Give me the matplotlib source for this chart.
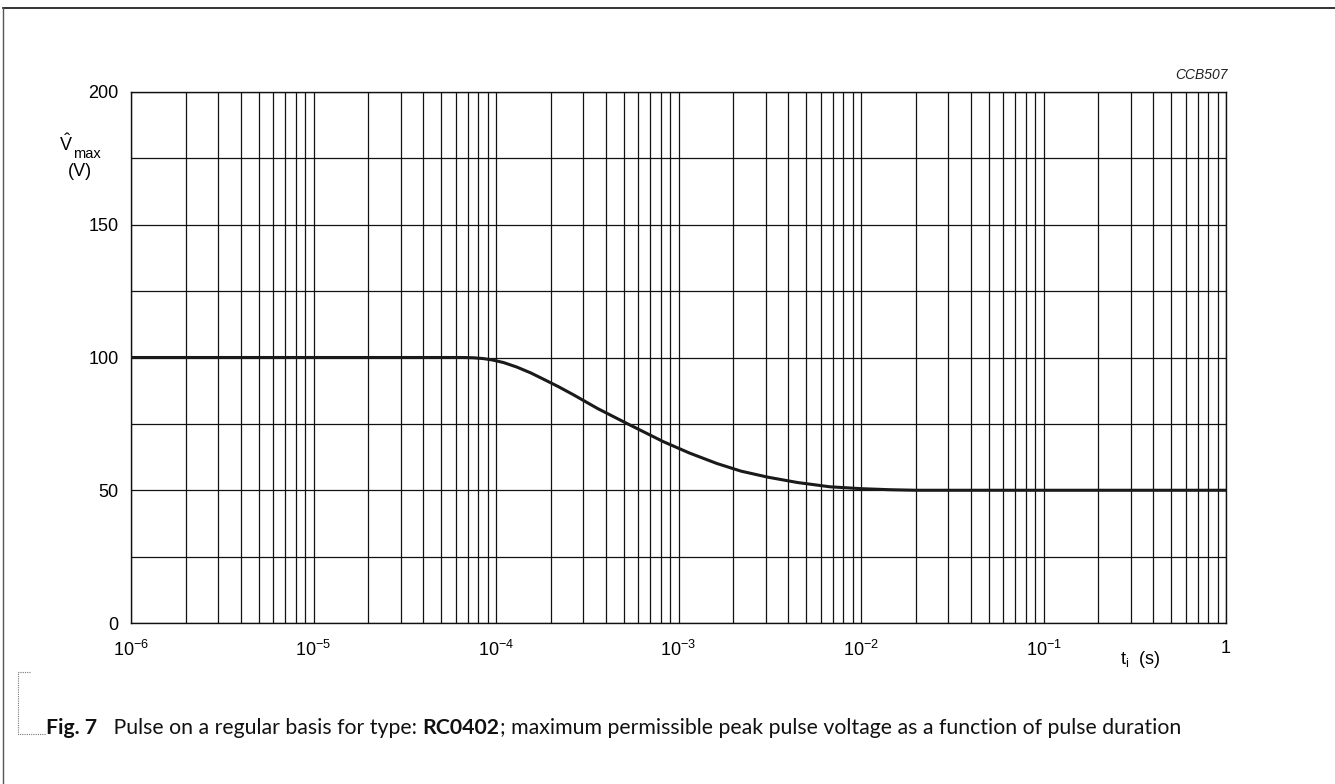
import matplotlib
matplotlib.use("Agg")
import matplotlib.pyplot as plt
from matplotlib.lines import Line2D
from matplotlib.ticker import LogLocator, FixedLocator, NullFormatter

plt.rcParams['font.family'] = ['Liberation Sans', 'DejaVu Sans']
plt.rcParams['mathtext.fontset'] = 'custom'
plt.rcParams['mathtext.rm'] = 'Liberation Sans'
plt.rcParams['mathtext.it'] = 'Liberation Sans:italic'
plt.rcParams['mathtext.bf'] = 'Liberation Sans:bold'

# ---- data ----
pulse_duration_s = [1e-6, 6.6e-5, 7.5e-5, 8.5e-5, 9.5e-5, 1.1e-4, 1.3e-4, 1.55e-4,
                    1.8e-4, 2.2e-4, 2.65e-4, 3.6e-4, 5.2e-4, 8.26e-4, 1.15e-3,
                    1.62e-3, 2.2e-3, 3.1e-3, 4.5e-3, 6.76e-3, 1.0e-2, 1.44e-2,
                    2.0e-2, 1.0]
v_max = [100, 100, 99.9, 99.6, 99.1, 98.1, 96.4, 94.2,
         92.0, 89.0, 86.0, 80.8, 75.2, 68.3, 64.0,
         60.1, 57.2, 54.9, 52.9, 51.3, 50.6, 50.2,
         50.0, 50.0]

x_tick_values = [1e-6, 1e-5, 1e-4, 1e-3, 1e-2, 1e-1, 1]
x_tick_labels = [r'$10^{-6}$', r'$10^{-5}$', r'$10^{-4}$', r'$10^{-3}$',
                 r'$10^{-2}$', r'$10^{-1}$', '1']
y_grid_values = [0, 25, 50, 75, 100, 125, 150, 175, 200]
y_tick_values = [0, 50, 100, 150, 200]

W, H = 1335, 784
fig = plt.figure(figsize=(W / 100, H / 100), dpi=100)

ax_l, ax_r, ax_t, ax_b = 131, 1226, 92, 623
ax = fig.add_axes([ax_l / W, 1 - ax_b / H, (ax_r - ax_l) / W, (ax_b - ax_t) / H])
ax.set_xscale('log')
ax.set_xlim(1e-6, 1)
ax.set_ylim(0, 200)

ax.plot(pulse_duration_s, v_max, color='#1a1a1a', lw=2.2, solid_capstyle='round',
        solid_joinstyle='round', zorder=5)

# grid
ax.xaxis.set_major_locator(FixedLocator(x_tick_values))
ax.xaxis.set_minor_locator(LogLocator(base=10, subs=range(2, 10), numticks=20))
ax.xaxis.set_minor_formatter(NullFormatter())
ax.set_xticks(x_tick_values)
ax.set_xticklabels(x_tick_labels)
ax.yaxis.set_major_locator(FixedLocator(y_grid_values))
ax.set_yticklabels([str(v) if v in y_tick_values else '' for v in y_grid_values])
ax.grid(True, which='major', color='#111111', lw=0.9)
ax.grid(True, which='minor', axis='x', color='#111111', lw=0.9)
ax.tick_params(which='both', length=0)
ax.tick_params(axis='x', labelsize=13, pad=12)
ax.tick_params(axis='y', labelsize=13, pad=9)
for s in ax.spines.values():
    s.set_color('#111111')
    s.set_linewidth(1.0)

# axis labels
fig.text(66 / W, 1 - 144 / H, r'$\hat{\mathrm{V}}$', fontsize=13, ha='center', va='center')
fig.text(73 / W, 1 - 154 / H, 'max', fontsize=10.5, ha='left', va='center')
fig.text(80 / W, 1 - 171 / H, '(V)', fontsize=13, ha='center', va='center')
fig.text(1140 / W, 1 - 659 / H, r'$\mathrm{t_i}$  (s)', fontsize=13, ha='center', va='center')
fig.text(1228 / W, 1 - 75 / H, 'CCB507', fontsize=10, style='italic', ha='right',
         va='center', color='#222222')

# frame lines
fig.add_artist(Line2D([3 / W, 1.0], [1 - 8 / H, 1 - 8 / H], transform=fig.transFigure,
                      color='#111111', lw=1.2))
fig.add_artist(Line2D([3 / W, 3 / W], [1 - 8 / H, 0], transform=fig.transFigure,
                      color='#555555', lw=1.0))
# dotted bracket
fig.add_artist(Line2D([30 / W, 18 / W, 18 / W, 45 / W],
                      [1 - 672 / H, 1 - 672 / H, 1 - 734 / H, 1 - 734 / H],
                      transform=fig.transFigure, color='#777777', lw=0.8, ls=(0, (1, 1))))

# caption
cap_font = ['Lato', 'DejaVu Sans']
pieces = [('Fig. 7', 'bold'), ('   Pulse on a regular basis for type: ', 'normal'),
          ('RC0402', 'bold'),
          ('; maximum permissible peak pulse voltage as a function of pulse duration', 'normal')]
fig.canvas.draw()
renderer = fig.canvas.get_renderer()
x = 46
for txt, wt in pieces:
    t = fig.text(x / W, 1 - 728 / H, txt, fontsize=15.3, fontweight=wt, family=cap_font,
                 ha='left', va='center', color='#111111')
    bb = t.get_window_extent(renderer=renderer)
    x += bb.width

fig.savefig('out.png', dpi=100)
